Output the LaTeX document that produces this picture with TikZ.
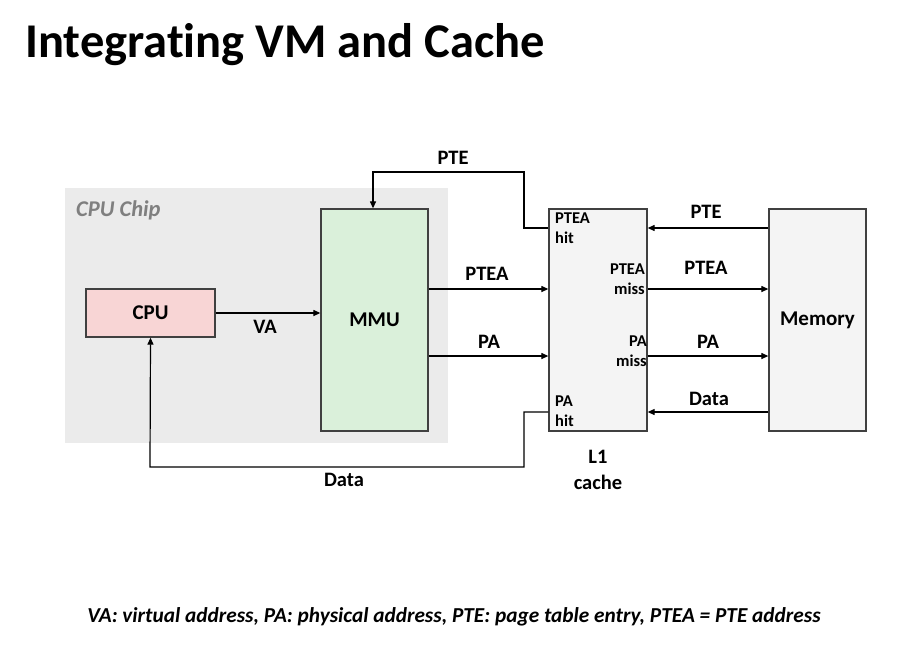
\documentclass[tikz,border=0pt]{standalone}
\usepackage{fontspec}
\setmainfont{Carlito}[Ligatures=NoCommon]
\usetikzlibrary{arrows.meta,calc}
\definecolor{chipgray}{HTML}{EBEBEB}
\definecolor{cpupink}{HTML}{F8D5D5}
\definecolor{mmugreen}{HTML}{DAF0DA}
\definecolor{boxgray}{HTML}{F4F4F4}
\definecolor{edge}{HTML}{404040}
\definecolor{chiptext}{HTML}{7F7F7F}
\begin{document}
\begin{tikzpicture}[x=1pt,y=-1pt,
  blk/.style={draw=edge,line width=1.3pt,inner sep=0pt,font=\fontsize{21}{24}\selectfont\bfseries},
  arr/.style={line width=1.2pt,-{Triangle[length=7pt,width=6pt]}},
  lab/.style={font=\fontsize{20.5}{22}\selectfont\bfseries,inner sep=0pt},
  small/.style={font=\fontsize{16.5}{20}\selectfont\bfseries,inner sep=0pt,align=left}]
\useasboundingbox (0,0) rectangle (923,649);
\fill[white] (0,0) rectangle (923,649);
% title
\node[anchor=base west,inner sep=0pt,font=\fontsize{48.5}{52}\selectfont\bfseries] (title) at (25,57) {Integrating VM and Cache};
% chip
\node[fill=chipgray,minimum width=383pt,minimum height=255pt,inner sep=0pt] (chip) at (256.5,315.5) {};
\node[anchor=base west,inner sep=0pt,text=chiptext,font=\fontsize{22.5}{24}\selectfont\bfseries\itshape] (chiplab) at (76,216) {CPU Chip};
% boxes
\node[blk,fill=cpupink,minimum width=129pt,minimum height=48pt] (cpu) at (150.5,313) {CPU};
\node[blk,fill=mmugreen,minimum width=107pt,minimum height=222pt] (mmu) at (374.5,320) {MMU};
\node[blk,fill=boxgray,minimum width=98pt,minimum height=222pt] (l1) at (598,320) {};
\node[blk,fill=boxgray,minimum width=97pt,minimum height=222pt] (mem) at (817.5,320) {Memory};
% labels inside L1
\node[small,anchor=north west] (pteahit) at (555,213) {PTEA\\hit};
\node[small,anchor=north east,align=right] (pteamiss) at (645,264) {PTEA\\miss};
\node[small,anchor=north east,align=right] (pamiss) at (647,336) {PA\\miss};
\node[small,anchor=north west] (pahit) at (555,396) {PA\\hit};
% L1 cache label
\node[lab,align=center,font=\fontsize{20.5}{26}\selectfont\bfseries] (l1lab) at (598,470) {L1\\cache};
% VA
\draw[arr] (cpu.east) -- (mmu.west |- cpu.east);
\node[lab] (va) at (265,327) {VA};
% MMU -> L1
\draw[arr] (mmu.east |- 0,289) -- (l1.west |- 0,289);
\node[lab] (ptea1) at (487,274) {PTEA};
\draw[arr] (mmu.east |- 0,356) -- (l1.west |- 0,356);
\node[lab] (pa1) at (489,342) {PA};
% L1 <-> Memory
\draw[arr] (mem.west |- 0,228) -- (l1.east |- 0,228);
\node[lab] (pte2) at (706,212) {PTE};
\draw[arr] (l1.east |- 0,289) -- (mem.west |- 0,289);
\node[lab] (ptea2) at (706,268) {PTEA};
\draw[arr] (l1.east |- 0,356) -- (mem.west |- 0,356);
\node[lab] (pa2) at (708,342) {PA};
\draw[arr] (mem.west |- 0,412) -- (l1.east |- 0,412);
\node[lab] (data2) at (709,399) {Data};
% feedback PTE
\draw[arr] (l1.west |- 0,228) -- (524,228) -- (524,172) -- (373,172) -- (mmu.north -| 373,0);
\node[lab] (pte1) at (453,158) {PTE};
% feedback Data
\draw[arr] (l1.west |- 0,412) -- (524,412) -- (524,467) -- (150,467) -- (cpu.south);
\node[lab] (data1) at (344,480) {Data};
% footer
\node[inner sep=0pt,font=\fontsize{21.3}{24}\selectfont\bfseries\itshape] (foot) at (454,617) {VA: virtual address, PA: physical address, PTE: page table entry, PTEA = PTE address};
\end{tikzpicture}
\end{document}
